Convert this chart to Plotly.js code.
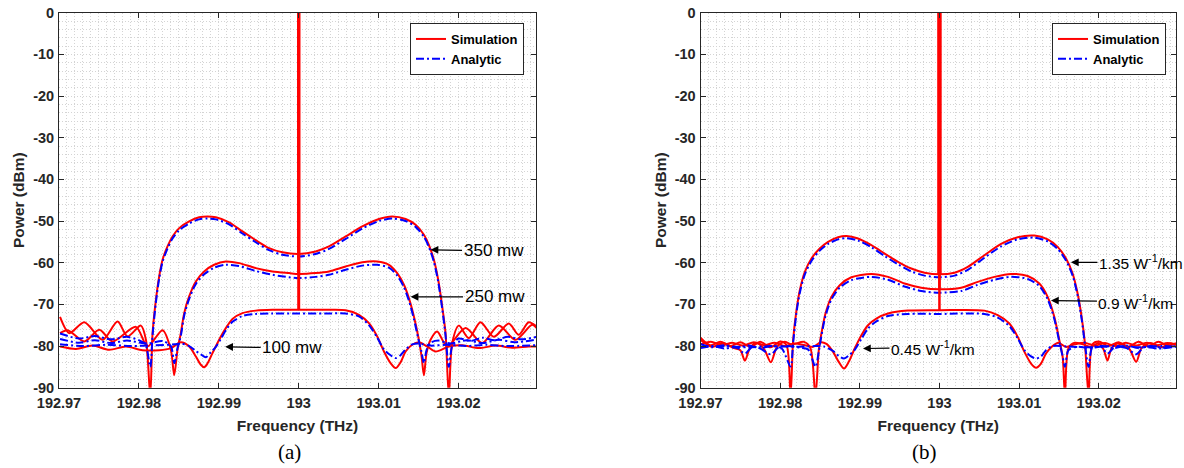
<!DOCTYPE html>
<html>
<head>
<meta charset="utf-8">
<script src="https://cdn.plot.ly/plotly-3.0.1.min.js"></script>
<style>
html,body{margin:0;padding:0;background:#fff;}
#chart{width:1184px;height:468px;}
</style>
</head>
<body>
<div id="chart"></div>
<script>
// ---------- tick labels ----------
const xTickVals = [192.97, 192.98, 192.99, 193, 193.01, 193.02];
const xTickText = ['192.97', '192.98', '192.99', '193', '193.01', '193.02'];
const yTickVals = [0, -10, -20, -30, -40, -50, -60, -70, -80, -90];
const yTickText = ['0', '-10', '-20', '-30', '-40', '-50', '-60', '-70', '-80', '-90'];

// ---------- panel (a): pump power ----------
const freqA350Sim = [192.97013, 192.97129, 192.97317, 192.97546, 192.97733, 192.97858, 192.98025, 192.98088, 192.98142, 192.98171, 192.98213, 192.98254, 192.98296, 192.98358, 192.98421, 192.98504, 192.98629, 192.98754, 192.98858, 192.98963, 192.99129, 192.99296, 192.99463, 192.99629, 192.99796, 193.0, 193.00213, 193.00379, 193.00588, 193.00796, 193.01004, 193.01171, 193.01338, 193.01463, 193.01567, 193.01629, 193.01692, 193.01746, 193.01796, 193.01838, 193.01879, 193.01921, 193.02004, 193.02129, 193.02275, 193.02442, 193.02629, 193.02754, 193.02879, 193.02983];
const powA350Sim = [-73.0, -76.9, -74.3, -78.5, -74.1, -77.7, -75.1, -78.5, -92.0, -76.9, -68.9, -63.3, -59.3, -56.1, -53.7, -51.7, -50.1, -49.1, -48.9, -49.1, -50.3, -52.5, -54.6, -56.5, -57.5, -57.9, -57.3, -56.1, -53.7, -51.3, -49.5, -48.9, -49.5, -50.9, -53.3, -55.7, -59.3, -64.1, -70.5, -76.9, -92.0, -79.3, -75.1, -78.1, -74.3, -77.8, -74.6, -77.3, -74.3, -75.4];

const freqA250Sim = [192.97013, 192.97108, 192.97317, 192.97504, 192.97671, 192.97963, 192.98108, 192.98296, 192.984, 192.98442, 192.98483, 192.98525, 192.98567, 192.98629, 192.98713, 192.98817, 192.98942, 192.99088, 192.99254, 192.99463, 192.99671, 192.99879, 193.0, 193.00213, 193.00379, 193.00588, 193.00796, 193.00983, 193.01129, 193.01233, 193.01317, 193.01379, 193.01442, 193.01496, 193.01538, 193.01567, 193.016, 193.0165, 193.01733, 193.01858, 193.02088, 193.02296, 193.02504, 193.02713, 193.02921, 193.02983];
const powA250Sim = [-76.9, -76.2, -78.9, -76.1, -78.9, -75.4, -80.1, -76.2, -80.9, -87.0, -80.9, -76.9, -72.1, -68.1, -64.5, -62.1, -60.5, -59.7, -60.1, -61.3, -62.1, -62.5, -62.7, -62.5, -62.1, -60.9, -59.9, -59.7, -60.5, -62.5, -65.3, -68.5, -72.9, -77.7, -82.5, -87.0, -81.7, -78.5, -76.5, -80.1, -75.7, -79.3, -75.1, -78.5, -74.9, -75.8];

const freqA100Sim = [192.97013, 192.97213, 192.97421, 192.97629, 192.97838, 192.98046, 192.98254, 192.984, 192.98525, 192.98629, 192.98713, 192.98775, 192.98817, 192.98858, 192.98921, 192.99004, 192.99088, 192.99171, 192.99296, 192.99463, 192.99671, 193.0, 193.00329, 193.00588, 193.00754, 193.00879, 193.00983, 193.01067, 193.0115, 193.01213, 193.01275, 193.01338, 193.01421, 193.01504, 193.01608, 193.01713, 193.01879, 193.02046, 193.02254, 193.02463, 193.02671, 193.02879, 193.02983];
const powA100Sim = [-80.1, -80.7, -79.9, -80.9, -80.1, -81.0, -81.0, -80.5, -79.1, -80.1, -82.5, -84.5, -85.1, -84.2, -81.7, -78.5, -75.7, -73.5, -72.1, -71.5, -71.3, -71.3, -71.3, -71.4, -72.5, -74.5, -77.7, -81.3, -84.1, -85.3, -83.9, -81.3, -79.7, -79.1, -80.1, -81.3, -80.1, -79.8, -80.5, -79.9, -80.4, -80.1, -80.1];

const freqA350Ana = [192.97013, 192.9725, 192.9745, 192.9765, 192.9785, 192.98, 192.9808, 192.98142, 192.98171, 192.98213, 192.98254, 192.98296, 192.98358, 192.98421, 192.98504, 192.98629, 192.98754, 192.98858, 192.98963, 192.99129, 192.99296, 192.99463, 192.99629, 192.99796, 193.0, 193.00213, 193.00379, 193.00588, 193.00796, 193.01004, 193.01171, 193.01338, 193.01463, 193.01567, 193.01629, 193.01692, 193.01746, 193.01796, 193.01838, 193.01879, 193.01921, 193.02, 193.0215, 193.023, 193.0245, 193.0262, 193.0278, 193.02983];
const powA350Ana = [-77.0, -78.2, -77.6, -78.4, -77.8, -78.6, -79.5, -85.0, -77.5, -69.5, -63.8, -59.8, -56.6, -54.2, -52.2, -50.6, -49.6, -49.4, -49.6, -50.8, -53.0, -55.1, -57.0, -58.1, -58.5, -57.9, -56.7, -54.3, -51.8, -50.0, -49.4, -50.0, -51.4, -53.8, -56.2, -59.8, -64.6, -71.0, -77.5, -85.0, -80.0, -78.2, -78.8, -78.0, -78.6, -77.8, -78.4, -77.8];

const freqA250Ana = [192.97013, 192.9725, 192.9745, 192.9765, 192.9785, 192.981, 192.983, 192.984, 192.98442, 192.98483, 192.98525, 192.98567, 192.98629, 192.98713, 192.98817, 192.98942, 192.99088, 192.99254, 192.99463, 192.99671, 192.99879, 193.0, 193.00213, 193.00379, 193.00588, 193.00796, 193.00983, 193.01129, 193.01233, 193.01317, 193.01379, 193.01442, 193.01496, 193.01538, 193.01567, 193.016, 193.0165, 193.0175, 193.019, 193.021, 193.023, 193.025, 193.027, 193.02983];
const powA250Ana = [-78.3, -79.2, -78.6, -79.3, -78.7, -79.4, -78.8, -80.0, -84.1, -80.5, -77.5, -72.7, -68.7, -65.1, -62.8, -61.2, -60.5, -60.8, -62.0, -62.9, -63.5, -63.7, -63.4, -62.9, -61.7, -60.7, -60.5, -61.2, -63.1, -65.9, -69.1, -73.5, -78.2, -81.5, -84.1, -81.0, -79.2, -78.7, -79.4, -78.6, -79.3, -78.5, -79.1, -78.4];

const freqA100Ana = [192.97013, 192.973, 192.976, 192.979, 192.982, 192.9845, 192.98525, 192.98629, 192.98713, 192.98775, 192.98838, 192.989, 192.98963, 192.99025, 192.99088, 192.99171, 192.99296, 192.99463, 192.99671, 193.0, 193.00329, 193.00588, 193.00754, 193.00879, 193.00983, 193.01067, 193.0115, 193.01213, 193.01275, 193.01338, 193.01421, 193.015, 193.0165, 193.0185, 193.021, 193.0235, 193.026, 193.02983];
const powA100Ana = [-79.6, -80.0, -79.7, -80.0, -79.8, -79.6, -79.4, -80.0, -81.2, -82.0, -82.7, -81.5, -80.2, -78.3, -76.2, -74.2, -72.8, -72.3, -72.2, -72.2, -72.2, -72.2, -72.9, -75.0, -78.0, -80.8, -82.2, -82.9, -82.2, -80.8, -79.6, -79.4, -79.9, -79.7, -80.0, -79.7, -80.0, -79.8];

// ---------- panel (b): nonlinear coefficient ----------
const freqB135Sim = [192.970, 192.9712, 192.9725, 192.9738, 192.975, 192.9763, 192.9775, 192.9788, 192.98, 192.9808, 192.9813, 192.98163, 192.98205, 192.98247, 192.9831, 192.98393, 192.98497, 192.98602, 192.98727, 192.98832, 192.98978, 192.99145, 192.99312, 192.99479, 192.99646, 192.99813, 193.0, 193.00189, 193.00356, 193.00565, 193.00774, 193.00983, 193.01192, 193.01359, 193.01484, 193.01589, 193.01672, 193.01735, 193.01785, 193.01827, 193.01873, 193.0192, 193.02, 193.0212, 193.0225, 193.0237, 193.025, 193.0262, 193.0275, 193.0287, 193.0297];
const powB135Sim = [-78.0, -79.8, -79.0, -80.0, -79.1, -80.2, -79.0, -80.3, -78.9, -79.8, -92.0, -78.6, -71.4, -66.6, -62.2, -59.0, -56.6, -55.0, -53.9, -53.6, -54.2, -55.8, -57.8, -59.8, -61.4, -62.4, -62.8, -62.4, -61.0, -58.2, -55.5, -53.9, -53.5, -54.4, -56.2, -59.0, -62.6, -67.4, -73.0, -79.4, -92.0, -79.6, -78.9, -80.0, -79.1, -80.2, -79.0, -80.1, -79.0, -79.9, -79.3];

const freqB09Sim = [192.970, 192.9715, 192.9728, 192.9742, 192.975, 192.97558, 192.9762, 192.977, 192.978, 192.97883, 192.9796, 192.9805, 192.9815, 192.983, 192.9838, 192.98443, 192.98485, 192.98518, 192.98569, 192.98644, 192.98748, 192.98894, 192.99145, 192.99354, 192.99562, 192.99771, 193.0, 193.00273, 193.00482, 193.00691, 193.00899, 193.01108, 193.01254, 193.01359, 193.01442, 193.01505, 193.01547, 193.01576, 193.0162, 193.017, 193.018, 193.019, 193.02, 193.0206, 193.0211, 193.0216, 193.0225, 193.0238, 193.0247, 193.0254, 193.0265, 193.0278, 193.029, 193.0297];
const powB09Sim = [-78.5, -80.2, -79.3, -80.5, -81.0, -83.5, -80.5, -79.2, -80.8, -83.9, -80.2, -79.0, -79.6, -79.0, -80.5, -92.0, -81.0, -77.0, -72.2, -68.2, -65.4, -63.5, -62.7, -63.4, -65.0, -66.0, -66.4, -66.0, -64.6, -63.4, -62.7, -63.2, -65.0, -68.2, -73.0, -78.6, -82.6, -92.0, -80.5, -79.2, -79.6, -80.2, -79.3, -80.8, -83.5, -80.6, -79.3, -80.6, -83.8, -80.4, -79.3, -80.3, -79.4, -79.8];

const freqB045Sim = [192.970, 192.9713, 192.9727, 192.974, 192.9753, 192.9767, 192.978, 192.9793, 192.9806, 192.98184, 192.9831, 192.98414, 192.9851, 192.98581, 192.98665, 192.98736, 192.98802, 192.98861, 192.98936, 192.9902, 192.99103, 192.99208, 192.99354, 192.99604, 193.0, 193.00565, 193.00732, 193.00878, 193.00983, 193.01067, 193.0115, 193.01213, 193.01275, 193.01338, 193.01421, 193.01492, 193.01589, 193.017, 193.0182, 193.0195, 193.0208, 193.0221, 193.0234, 193.0247, 193.026, 193.0273, 193.0286, 193.0297];
const powB045Sim = [-79.6, -79.0, -79.8, -79.2, -79.9, -79.1, -79.8, -79.2, -80.0, -79.4, -79.8, -80.2, -79.1, -79.5, -81.4, -83.8, -85.4, -83.8, -80.6, -77.4, -75.0, -73.4, -72.2, -71.5, -71.4, -71.5, -72.6, -74.6, -77.8, -81.4, -84.2, -85.2, -84.2, -81.8, -80.0, -79.2, -80.2, -79.6, -79.2, -79.9, -79.3, -80.0, -79.2, -79.9, -79.2, -79.8, -79.3, -79.6];

const freqB135Ana = [192.970, 192.9715, 192.973, 192.9745, 192.976, 192.9775, 192.979, 192.9802, 192.9813, 192.98163, 192.98205, 192.98247, 192.9831, 192.98393, 192.98497, 192.98602, 192.98727, 192.98832, 192.98978, 192.99145, 192.99312, 192.99479, 192.99646, 192.99813, 193.0, 193.00189, 193.00356, 193.00565, 193.00774, 193.00983, 193.01192, 193.01359, 193.01484, 193.01589, 193.01672, 193.01735, 193.01785, 193.01827, 193.01873, 193.0192, 193.0205, 193.022, 193.0235, 193.025, 193.0265, 193.028, 193.0297];
const powB135Ana = [-79.5, -80.3, -79.8, -80.4, -79.9, -80.5, -80.0, -80.6, -84.9, -79.2, -72.0, -67.2, -62.8, -59.6, -57.1, -55.5, -54.4, -54.1, -54.7, -56.3, -58.4, -60.4, -62.1, -63.1, -63.5, -63.1, -61.7, -58.8, -56.1, -54.4, -54.0, -54.9, -56.7, -59.5, -63.1, -67.9, -73.5, -79.6, -85.0, -80.4, -80.0, -80.5, -79.9, -80.5, -80.0, -80.4, -80.0];

const freqB09Ana = [192.970, 192.9715, 192.973, 192.9745, 192.97558, 192.9765, 192.9775, 192.97883, 192.9798, 192.981, 192.9825, 192.9835, 192.98443, 192.98485, 192.98518, 192.98569, 192.98644, 192.98748, 192.98894, 192.99145, 192.99354, 192.99562, 192.99771, 193.0, 193.00273, 193.00482, 193.00691, 193.00899, 193.01108, 193.01254, 193.01359, 193.01442, 193.01505, 193.01547, 193.01576, 193.0162, 193.0172, 193.019, 193.0203, 193.0211, 193.022, 193.0235, 193.0247, 193.0257, 193.0275, 193.0297];
const powB09Ana = [-80.5, -80.0, -80.6, -80.3, -81.8, -80.2, -80.6, -82.0, -80.3, -80.0, -80.4, -80.8, -85.0, -81.3, -77.6, -72.8, -68.8, -66.0, -64.2, -63.4, -64.1, -65.7, -66.8, -67.2, -66.8, -65.3, -64.1, -63.4, -63.9, -65.6, -68.8, -73.5, -79.0, -82.5, -85.0, -81.0, -80.2, -80.5, -80.2, -81.8, -80.3, -80.5, -82.0, -80.3, -80.6, -80.2];

const freqB045Ana = [192.970, 192.973, 192.976, 192.979, 192.982, 192.9845, 192.9855, 192.98665, 192.98736, 192.98802, 192.98861, 192.98936, 192.9902, 192.99103, 192.99208, 192.99354, 192.99604, 193.0, 193.00565, 193.00732, 193.00878, 193.00983, 193.01067, 193.0115, 193.01213, 193.01275, 193.01338, 193.01421, 193.016, 193.019, 193.022, 193.025, 193.028, 193.0297];
const powB045Ana = [-80.2, -80.0, -80.3, -80.0, -80.2, -80.0, -80.1, -81.2, -82.4, -83.0, -82.3, -80.9, -78.3, -75.8, -74.1, -72.8, -72.3, -72.3, -72.3, -73.2, -75.2, -78.2, -81.0, -82.5, -83.0, -82.5, -81.0, -80.0, -80.1, -80.3, -80.0, -80.3, -80.0, -80.2];

// pump line at the centre frequency (clipped at the top of the axes)
const pumpFreq = [193, 193];
const pumpBottomA = [-57.9, -62.7, -71.3];
const pumpBottomB = [-62.8, -66.4, -71.4];
const pumpTop = 5;

// annotation labels: [text, headFreq, headPower, dx, dy]
const labelsA = [
  ['350 mw', 193.0165, -56.9, 63, 1],
  ['250 mw', 193.0140, -68.2, 84, 0],
  ['100 mw', 192.9908, -80.2, 67, 1]
];
const labelsB = [
  ['1.35 W<sup>-1</sup>/km', 193.0165, -59.9, 70, 0],
  ['0.9 W<sup>-1</sup>/km', 193.0140, -69.1, 85, 1],
  ['0.45 W<sup>-1</sup>/km', 192.9904, -80.6, 70, -1]
];

// ---------- styling ----------
const RED = '#ff0000';
const BLUE = '#0000ff';
const FONT = 'Liberation Sans, Arial, Helvetica, sans-serif';
const AXC = '#262626';

const traces = [];
function sim(x, y, xa, ya, leg, show) {
  traces.push({x: x, y: y, xaxis: xa, yaxis: ya, type: 'scatter', mode: 'lines',
    line: {color: RED, width: 2, shape: 'spline', smoothing: 0.8},
    name: 'Simulation', legend: leg, showlegend: show, legendrank: 1});
}
function ana(x, y, xa, ya, leg, show) {
  traces.push({x: x, y: y, xaxis: xa, yaxis: ya, type: 'scatter', mode: 'lines',
    line: {color: BLUE, width: 2, dash: '8px,3px,2px,3px', shape: 'spline', smoothing: 0.8},
    name: 'Analytic', legend: leg, showlegend: show, legendrank: 2});
}
sim(freqA350Sim, powA350Sim, 'x', 'y', 'legend', true);
sim(freqA250Sim, powA250Sim, 'x', 'y', 'legend', false);
sim(freqA100Sim, powA100Sim, 'x', 'y', 'legend', false);
ana(freqA350Ana, powA350Ana, 'x', 'y', 'legend', true);
ana(freqA250Ana, powA250Ana, 'x', 'y', 'legend', false);
ana(freqA100Ana, powA100Ana, 'x', 'y', 'legend', false);

sim(freqB135Sim, powB135Sim, 'x2', 'y2', 'legend2', true);
sim(freqB09Sim, powB09Sim, 'x2', 'y2', 'legend2', false);
sim(freqB045Sim, powB045Sim, 'x2', 'y2', 'legend2', false);
ana(freqB135Ana, powB135Ana, 'x2', 'y2', 'legend2', true);
ana(freqB09Ana, powB09Ana, 'x2', 'y2', 'legend2', false);
ana(freqB045Ana, powB045Ana, 'x2', 'y2', 'legend2', false);

const pumpWidthsA = [3, 3, 3];
const pumpWidthsB = [4.5, 2.5, 2.5];
pumpBottomA.forEach((b, i) => traces.push({x: pumpFreq, y: [b, pumpTop], xaxis: 'x', yaxis: 'y',
  type: 'scatter', mode: 'lines', line: {color: RED, width: pumpWidthsA[i]}, showlegend: false, hoverinfo: 'skip'}));
pumpBottomB.forEach((b, i) => traces.push({x: pumpFreq, y: [b, pumpTop], xaxis: 'x2', yaxis: 'y2',
  type: 'scatter', mode: 'lines', line: {color: RED, width: pumpWidthsB[i]}, showlegend: false, hoverinfo: 'skip'}));

function xAxis(domain, anchor) {
  return {
    domain: domain, anchor: anchor, range: [192.97, 193.0297],
    tickmode: 'array', tickvals: xTickVals, ticktext: xTickText,
    ticks: 'inside', ticklen: 5, tickwidth: 1, tickcolor: AXC,
    showline: true, linecolor: AXC, linewidth: 1, mirror: 'ticks',
    showgrid: true, gridcolor: '#d4d4d4', griddash: '1px,2px', gridwidth: 1,
    minor: {dtick: 0.001, tick0: 192.97, showgrid: true, gridcolor: '#d4d4d4', griddash: '1px,2px', gridwidth: 1},
    zeroline: false, automargin: false, ticklabelstandoff: 2,
    tickfont: {family: FONT, size: 14.5, color: AXC, weight: 'bold'},
    title: {text: 'Frequency (THz)', font: {family: FONT, size: 15.5, color: AXC, weight: 'bold'}, standoff: 10}
  };
}
function yAxis(domain, anchor) {
  return {
    domain: domain, anchor: anchor, range: [-90, 0],
    tickmode: 'array', tickvals: yTickVals, ticktext: yTickText,
    ticks: 'inside', ticklen: 5, tickwidth: 1, tickcolor: AXC,
    showline: true, linecolor: AXC, linewidth: 1, mirror: 'ticks',
    showgrid: true, gridcolor: '#d4d4d4', griddash: '1px,2px', gridwidth: 1,
    minor: {dtick: 2, tick0: 0, showgrid: true, gridcolor: '#d4d4d4', griddash: '1px,2px', gridwidth: 1},
    zeroline: false, automargin: false, ticklabelstandoff: 1,
    tickfont: {family: FONT, size: 14.5, color: AXC, weight: 'bold'},
    title: {text: 'Power (dBm)', font: {family: FONT, size: 15.5, color: AXC, weight: 'bold'}, standoff: 4}
  };
}

const W = 1184, H = 468;
const yDom = [1 - 387.7 / H, 1 - 12.7 / H];

const annotations = [];
function addLabels(list, xref, yref, size) {
  list.forEach(l => annotations.push({
    text: l[0], x: l[1], y: l[2], xref: xref, yref: yref,
    ax: l[3], ay: l[4], axref: 'pixel', ayref: 'pixel',
    showarrow: true, arrowhead: 2, arrowsize: 1.3, arrowwidth: 1.2, arrowcolor: '#000',
    font: {family: FONT, size: size, color: '#000'}, xanchor: 'center', yanchor: 'middle'
  }));
}
addLabels(labelsA, 'x', 'y', 17);
addLabels(labelsB, 'x2', 'y2', 15.5);
annotations.push({text: '(a)', xref: 'paper', yref: 'paper', x: 289 / W, y: 1 - 452 / H,
  xanchor: 'center', yanchor: 'middle',
  showarrow: false, font: {family: 'Liberation Serif, Times New Roman, serif', size: 21, color: '#000'}});
annotations.push({text: '(b)', xref: 'paper', yref: 'paper', x: 924 / W, y: 1 - 452 / H,
  xanchor: 'center', yanchor: 'middle',
  showarrow: false, font: {family: 'Liberation Serif, Times New Roman, serif', size: 21, color: '#000'}});

const legendStyle = (xr) => ({
  x: xr / W, xanchor: 'right', y: 1 - 23 / H, yanchor: 'top',
  bgcolor: '#ffffff', bordercolor: AXC, borderwidth: 1,
  font: {family: FONT, size: 13, color: '#000', weight: 'bold'},
  tracegroupgap: 0, itemwidth: 30
});

const layout = {
  width: W, height: H,
  margin: {l: 0, r: 0, t: 0, b: 0},
  paper_bgcolor: '#fff', plot_bgcolor: '#fff',
  showlegend: true,
  xaxis: xAxis([59 / W, 536 / W], 'y'),
  yaxis: yAxis(yDom, 'x'),
  xaxis2: xAxis([700.5 / W, 1176 / W], 'y2'),
  yaxis2: yAxis(yDom, 'x2'),
  legend: legendStyle(524),
  legend2: legendStyle(1166),
  annotations: annotations
};

Plotly.newPlot('chart', traces, layout, {displayModeBar: false, staticPlot: true});
</script>
</body>
</html>
